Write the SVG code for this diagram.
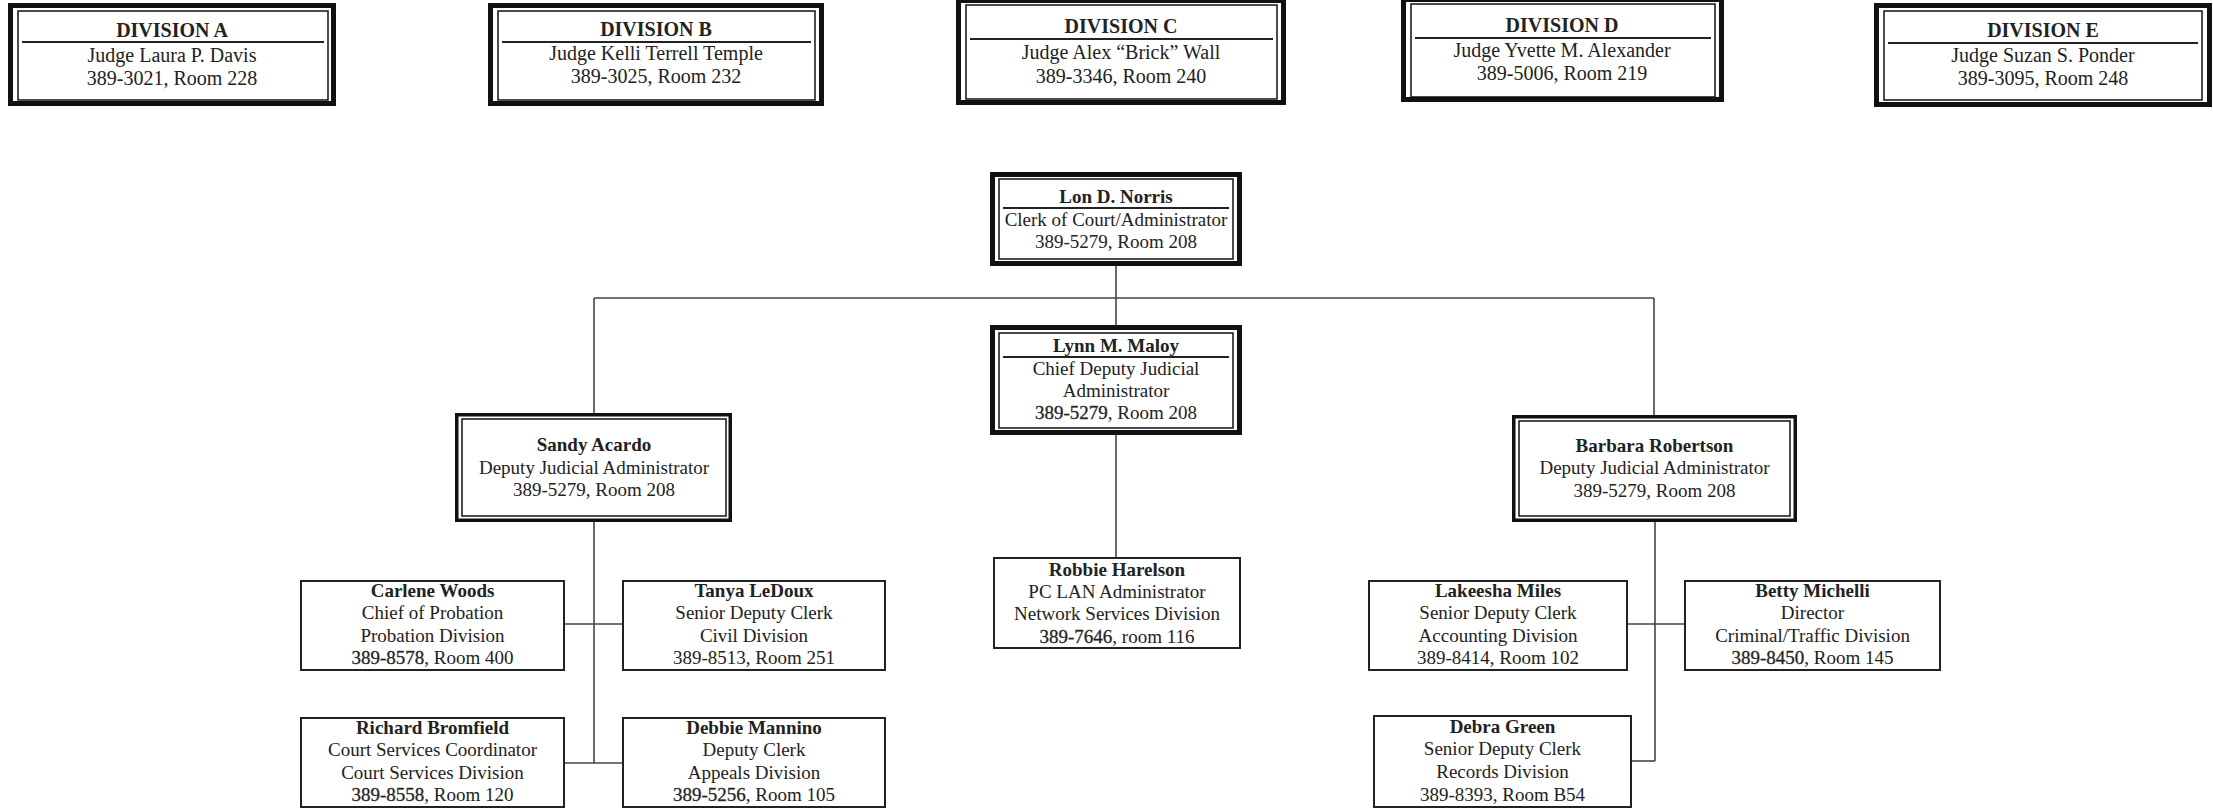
<svg xmlns="http://www.w3.org/2000/svg" width="2213" height="809" viewBox="0 0 2213 809">
<style>
.bg{fill:#fff}
.oo{fill:#fff;stroke:#111;stroke-width:5}
.om{fill:#fff;stroke:#111;stroke-width:3.5}
.ii{fill:none;stroke:#111;stroke-width:1.5}
.bx{fill:#fff;stroke:#222;stroke-width:2}
.dv{stroke:#222;stroke-width:2}
.cn{stroke:#444;stroke-width:1.6;fill:none}
text{font-family:"Liberation Serif","Times New Roman",serif;font-size:19px;fill:#222;text-anchor:middle}
.b{font-weight:bold}
.d{font-size:20px}
.hl{stroke:#333;stroke-width:0.35}
</style>
<rect class="bg" x="0" y="0" width="2213" height="809"/>
<g id="connectors">
<line class="cn" x1="1116" y1="266" x2="1116" y2="325"/>
<line class="cn" x1="594" y1="298" x2="1654" y2="298"/>
<line class="cn" x1="594" y1="298" x2="594" y2="413"/>
<line class="cn" x1="1654" y1="298" x2="1654" y2="415"/>
<line class="cn" x1="1116" y1="435" x2="1116" y2="557"/>
<line class="cn" x1="594" y1="522" x2="594" y2="763"/>
<line class="cn" x1="565" y1="624" x2="622" y2="624"/>
<line class="cn" x1="565" y1="763" x2="622" y2="763"/>
<line class="cn" x1="1655" y1="522" x2="1655" y2="761"/>
<line class="cn" x1="1628" y1="624" x2="1684" y2="624"/>
<line class="cn" x1="1632" y1="761" x2="1655" y2="761"/>
</g>
<g id="division-a">
<rect class="oo" x="10.5" y="5.5" width="323" height="98"/>
<rect class="ii" x="18" y="11" width="310" height="89"/>
<line class="dv" x1="22" y1="42" x2="324" y2="42"/>
<text class="b d" x="172" y="37">DIVISION A</text>
<text class="d" x="172" y="62">Judge Laura P. Davis</text>
<text class="d" x="172" y="85">389-3021, Room 228</text>
</g>
<g id="division-b">
<rect class="oo" x="490.5" y="5.5" width="331" height="98"/>
<rect class="ii" x="498" y="11" width="317" height="89"/>
<line class="dv" x1="502" y1="42" x2="811" y2="42"/>
<text class="b d" x="656" y="36">DIVISION B</text>
<text class="d" x="656" y="60">Judge Kelli Terrell Temple</text>
<text class="d" x="656" y="83">389-3025, Room 232</text>
</g>
<g id="division-c">
<rect class="oo" x="958.5" y="0.5" width="325" height="102"/>
<rect class="ii" x="966" y="5" width="311" height="94"/>
<line class="dv" x1="970" y1="39" x2="1273" y2="39"/>
<text class="b d" x="1121" y="33">DIVISION C</text>
<text class="d" x="1121" y="59">Judge Alex “Brick” Wall</text>
<text class="d" x="1121" y="83">389-3346, Room 240</text>
</g>
<g id="division-d">
<rect class="oo" x="1403.5" y="-0.5" width="318" height="100"/>
<rect class="ii" x="1411" y="4" width="304" height="93"/>
<line class="dv" x1="1415" y1="38" x2="1711" y2="38"/>
<text class="b d" x="1562" y="32">DIVISION D</text>
<text class="d" x="1562" y="57">Judge Yvette M. Alexander</text>
<text class="d" x="1562" y="80">389-5006, Room 219</text>
</g>
<g id="division-e">
<rect class="oo" x="1876.5" y="5.5" width="333" height="99"/>
<rect class="ii" x="1884" y="11" width="318" height="89"/>
<line class="dv" x1="1888" y1="43" x2="2198" y2="43"/>
<text class="b d" x="2043" y="37">DIVISION E</text>
<text class="d" x="2043" y="62">Judge Suzan S. Ponder</text>
<text class="d" x="2043" y="85">389-3095, Room 248</text>
</g>
<g id="lon-norris">
<rect class="oo" x="992.5" y="174.5" width="247" height="89"/>
<rect class="ii" x="999" y="179" width="234" height="80"/>
<line class="dv" x1="1003" y1="208" x2="1229" y2="208"/>
<text class="b" x="1116" y="203">Lon D. Norris</text>
<text x="1116" y="226">Clerk of Court/Administrator</text>
<text x="1116" y="248">389-5279, Room 208</text>
</g>
<g id="lynn-maloy">
<rect class="oo" x="992.5" y="327.5" width="247" height="105"/>
<rect class="ii" x="999" y="333" width="234" height="95"/>
<line class="dv" x1="1003" y1="357" x2="1229" y2="357"/>
<text class="b" x="1116" y="352">Lynn M. Maloy</text>
<text x="1116" y="375">Chief Deputy Judicial</text>
<text x="1116" y="397">Administrator</text>
<text x="1116" y="419"><tspan class="hl">389-5279</tspan>, Room 208</text>
</g>
<g id="sandy-acardo">
<rect class="om" x="456.75" y="414.75" width="273.5" height="105.5"/>
<rect class="ii" x="462" y="419" width="264" height="97"/>
<text class="b" x="594" y="451">Sandy Acardo</text>
<text x="594" y="474">Deputy Judicial Administrator</text>
<text x="594" y="496">389-5279, Room 208</text>
</g>
<g id="barbara-robertson">
<rect class="om" x="1513.75" y="416.75" width="281.5" height="103.5"/>
<rect class="ii" x="1519" y="421" width="271" height="95"/>
<text class="b" x="1654.5" y="452">Barbara Robertson</text>
<text x="1654.5" y="474">Deputy Judicial Administrator</text>
<text x="1654.5" y="497">389-5279, Room 208</text>
</g>
<g id="robbie-harelson">
<rect class="bx" x="994" y="558" width="246" height="90"/>
<text class="b" x="1117" y="576">Robbie Harelson</text>
<text x="1117" y="598">PC LAN Administrator</text>
<text x="1117" y="620">Network Services Division</text>
<text x="1117" y="643"><tspan class="hl">389-7646</tspan>, room 116</text>
</g>
<g id="carlene-woods">
<rect class="bx" x="301" y="581" width="263" height="89"/>
<text class="b" x="432.5" y="597">Carlene Woods</text>
<text x="432.5" y="619">Chief of Probation</text>
<text x="432.5" y="642">Probation Division</text>
<text x="432.5" y="664"><tspan class="hl">389-8578</tspan>, Room 400</text>
</g>
<g id="tanya-ledoux">
<rect class="bx" x="623" y="581" width="262" height="89"/>
<text class="b" x="754" y="597">Tanya LeDoux</text>
<text x="754" y="619">Senior Deputy Clerk</text>
<text x="754" y="642">Civil Division</text>
<text x="754" y="664">389-8513, Room 251</text>
</g>
<g id="richard-bromfield">
<rect class="bx" x="301" y="718" width="263" height="89"/>
<text class="b" x="432.5" y="734">Richard Bromfield</text>
<text x="432.5" y="756">Court Services Coordinator</text>
<text x="432.5" y="779">Court Services Division</text>
<text x="432.5" y="801"><tspan class="hl">389-8558</tspan>, Room 120</text>
</g>
<g id="debbie-mannino">
<rect class="bx" x="623" y="718" width="262" height="89"/>
<text class="b" x="754" y="734">Debbie Mannino</text>
<text x="754" y="756">Deputy Clerk</text>
<text x="754" y="779">Appeals Division</text>
<text x="754" y="801"><tspan class="hl">389-5256</tspan>, Room 105</text>
</g>
<g id="lakeesha-miles">
<rect class="bx" x="1369" y="581" width="258" height="89"/>
<text class="b" x="1498" y="597">Lakeesha Miles</text>
<text x="1498" y="619">Senior Deputy Clerk</text>
<text x="1498" y="642">Accounting Division</text>
<text x="1498" y="664">389-8414, Room 102</text>
</g>
<g id="betty-michelli">
<rect class="bx" x="1685" y="581" width="255" height="89"/>
<text class="b" x="1812.5" y="597">Betty Michelli</text>
<text x="1812.5" y="619">Director</text>
<text x="1812.5" y="642">Criminal/Traffic Division</text>
<text x="1812.5" y="664"><tspan class="hl">389-8450</tspan>, Room 145</text>
</g>
<g id="debra-green">
<rect class="bx" x="1374" y="716" width="257" height="91"/>
<text class="b" x="1502.5" y="733">Debra Green</text>
<text x="1502.5" y="755">Senior Deputy Clerk</text>
<text x="1502.5" y="778">Records Division</text>
<text x="1502.5" y="801">389-8393, Room B54</text>
</g>
</svg>
